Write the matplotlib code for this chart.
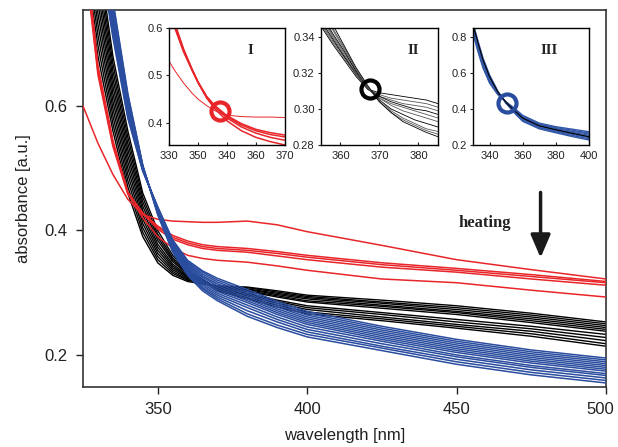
import matplotlib
matplotlib.use("Agg")
import matplotlib.pyplot as plt
from matplotlib.transforms import ScaledTranslation

plt.rcParams['font.family'] = ['Liberation Sans', 'DejaVu Sans']

# ---- main spectra (wavelength in nm, absorbance in a.u.) ----
wavelength = [325, 330, 335, 340, 345, 350, 355, 360, 365, 370, 380, 390, 400, 425, 450, 475, 500]

red_spectra = [
    [0.600, 0.540, 0.490, 0.450, 0.425, 0.418, 0.415, 0.414, 0.413, 0.413, 0.415, 0.409, 0.398, 0.376, 0.353, 0.337, 0.322],
    [0.860, 0.650, 0.535, 0.458, 0.428, 0.407, 0.392, 0.383, 0.377, 0.374, 0.371, 0.366, 0.360, 0.348, 0.339, 0.329, 0.318],
    [0.870, 0.655, 0.538, 0.460, 0.428, 0.405, 0.389, 0.380, 0.374, 0.371, 0.368, 0.363, 0.357, 0.345, 0.336, 0.326, 0.316],
    [0.880, 0.660, 0.542, 0.462, 0.427, 0.402, 0.386, 0.377, 0.371, 0.368, 0.365, 0.359, 0.353, 0.341, 0.333, 0.322, 0.312],
    [0.890, 0.665, 0.545, 0.460, 0.420, 0.390, 0.372, 0.360, 0.355, 0.352, 0.349, 0.343, 0.336, 0.322, 0.316, 0.304, 0.293],
]

black_spectra = [
    [0.840, 0.680, 0.560, 0.460, 0.390, 0.348, 0.328, 0.318, 0.314, 0.311, 0.309, 0.303, 0.296, 0.288, 0.279, 0.267, 0.253],
    [0.860, 0.697, 0.572, 0.470, 0.397, 0.353, 0.331, 0.320, 0.315, 0.310, 0.308, 0.301, 0.294, 0.285, 0.276, 0.264, 0.250],
    [0.880, 0.714, 0.584, 0.480, 0.404, 0.358, 0.334, 0.321, 0.316, 0.310, 0.306, 0.299, 0.292, 0.283, 0.273, 0.261, 0.247],
    [0.900, 0.731, 0.596, 0.490, 0.411, 0.363, 0.337, 0.323, 0.316, 0.309, 0.305, 0.297, 0.290, 0.280, 0.270, 0.258, 0.244],
    [0.920, 0.748, 0.608, 0.500, 0.418, 0.368, 0.340, 0.325, 0.317, 0.309, 0.303, 0.295, 0.287, 0.278, 0.268, 0.255, 0.241],
    [0.940, 0.765, 0.620, 0.510, 0.425, 0.373, 0.343, 0.326, 0.318, 0.308, 0.302, 0.293, 0.285, 0.275, 0.265, 0.252, 0.238],
    [0.960, 0.782, 0.632, 0.520, 0.432, 0.378, 0.346, 0.328, 0.319, 0.307, 0.299, 0.288, 0.279, 0.268, 0.257, 0.246, 0.233],
    [0.980, 0.799, 0.644, 0.530, 0.439, 0.384, 0.350, 0.330, 0.319, 0.306, 0.297, 0.286, 0.276, 0.265, 0.253, 0.242, 0.228],
    [1.000, 0.816, 0.656, 0.540, 0.446, 0.389, 0.353, 0.331, 0.320, 0.305, 0.295, 0.283, 0.273, 0.261, 0.249, 0.238, 0.223],
    [1.020, 0.833, 0.668, 0.550, 0.453, 0.394, 0.356, 0.333, 0.321, 0.304, 0.292, 0.280, 0.269, 0.258, 0.246, 0.234, 0.218],
    [1.050, 0.850, 0.680, 0.560, 0.460, 0.400, 0.360, 0.335, 0.322, 0.303, 0.290, 0.277, 0.266, 0.255, 0.243, 0.230, 0.214],
]

blue_spectra = [
    [1.02, 0.860, 0.710, 0.580, 0.495, 0.438, 0.385, 0.352, 0.335, 0.323, 0.305, 0.286, 0.270, 0.246, 0.225, 0.208, 0.195],
    [1.03, 0.867, 0.715, 0.583, 0.496, 0.437, 0.383, 0.350, 0.333, 0.320, 0.302, 0.283, 0.267, 0.243, 0.222, 0.205, 0.192],
    [1.04, 0.873, 0.720, 0.587, 0.497, 0.436, 0.382, 0.348, 0.330, 0.317, 0.299, 0.280, 0.264, 0.240, 0.219, 0.202, 0.189],
    [1.05, 0.880, 0.725, 0.590, 0.497, 0.435, 0.380, 0.346, 0.327, 0.314, 0.296, 0.277, 0.261, 0.237, 0.216, 0.199, 0.186],
    [1.06, 0.887, 0.730, 0.593, 0.498, 0.434, 0.378, 0.344, 0.325, 0.311, 0.293, 0.274, 0.258, 0.234, 0.213, 0.196, 0.183],
    [1.07, 0.893, 0.735, 0.597, 0.499, 0.433, 0.377, 0.342, 0.322, 0.308, 0.290, 0.271, 0.255, 0.231, 0.210, 0.193, 0.180],
    [1.08, 0.900, 0.740, 0.600, 0.500, 0.432, 0.375, 0.340, 0.319, 0.305, 0.287, 0.268, 0.252, 0.228, 0.207, 0.190, 0.177],
    [1.09, 0.907, 0.745, 0.603, 0.501, 0.431, 0.373, 0.338, 0.317, 0.302, 0.284, 0.265, 0.249, 0.225, 0.204, 0.187, 0.174],
    [1.10, 0.913, 0.750, 0.607, 0.502, 0.430, 0.372, 0.336, 0.314, 0.299, 0.280, 0.261, 0.245, 0.222, 0.200, 0.183, 0.170],
    [1.10, 0.920, 0.755, 0.610, 0.503, 0.429, 0.370, 0.334, 0.311, 0.296, 0.276, 0.257, 0.241, 0.218, 0.197, 0.180, 0.167],
    [1.11, 0.927, 0.760, 0.613, 0.503, 0.428, 0.368, 0.332, 0.308, 0.293, 0.271, 0.253, 0.237, 0.214, 0.193, 0.176, 0.163],
    [1.11, 0.933, 0.765, 0.617, 0.504, 0.427, 0.367, 0.330, 0.306, 0.290, 0.266, 0.248, 0.233, 0.211, 0.189, 0.172, 0.159],
    [1.12, 0.940, 0.770, 0.620, 0.505, 0.425, 0.365, 0.328, 0.303, 0.287, 0.262, 0.244, 0.229, 0.207, 0.185, 0.168, 0.155],
]

# ---- inset I (red) ----
inset1_wl = [330, 332, 335, 338, 340, 343, 346, 348, 350, 355, 360, 365, 370]
inset1_thin = [0.530, 0.510, 0.484, 0.462, 0.450, 0.436, 0.425, 0.419, 0.416, 0.413, 0.412, 0.412, 0.411]
inset1_red = [
    [0.640, 0.600, 0.550, 0.510, 0.485, 0.455, 0.435, 0.425, 0.415, 0.398, 0.386, 0.379, 0.374],
    [0.645, 0.603, 0.552, 0.511, 0.486, 0.455, 0.434, 0.423, 0.413, 0.395, 0.383, 0.375, 0.370],
    [0.650, 0.606, 0.554, 0.512, 0.486, 0.454, 0.432, 0.421, 0.410, 0.391, 0.378, 0.369, 0.363],
    [0.655, 0.610, 0.556, 0.512, 0.485, 0.452, 0.428, 0.416, 0.404, 0.383, 0.369, 0.360, 0.353],
]
inset1_xticks = [330, 340, 350, 360, 370]
inset1_xlabels = ['330', '350', '340', '360', '370']

# ---- inset II (black) ----
inset2_wl = [355, 358, 361, 364, 367, 370, 373, 376, 379, 382, 385]
inset2_black = [
    [0.346, 0.336, 0.327, 0.318, 0.311, 0.309, 0.308, 0.307, 0.306, 0.305, 0.303],
    [0.347, 0.337, 0.328, 0.319, 0.311, 0.308, 0.306, 0.305, 0.304, 0.303, 0.301],
    [0.348, 0.338, 0.329, 0.319, 0.311, 0.307, 0.305, 0.303, 0.302, 0.301, 0.299],
    [0.349, 0.339, 0.329, 0.320, 0.311, 0.307, 0.304, 0.302, 0.300, 0.299, 0.297],
    [0.351, 0.340, 0.330, 0.320, 0.311, 0.306, 0.303, 0.301, 0.299, 0.297, 0.295],
    [0.352, 0.341, 0.331, 0.321, 0.312, 0.306, 0.302, 0.299, 0.297, 0.295, 0.293],
    [0.353, 0.342, 0.332, 0.321, 0.312, 0.305, 0.300, 0.297, 0.294, 0.292, 0.290],
    [0.355, 0.344, 0.333, 0.322, 0.312, 0.305, 0.299, 0.295, 0.292, 0.289, 0.2875],
    [0.356, 0.345, 0.334, 0.322, 0.312, 0.304, 0.298, 0.294, 0.291, 0.288, 0.286],
    [0.358, 0.347, 0.335, 0.323, 0.313, 0.304, 0.298, 0.293, 0.290, 0.287, 0.2846],
]

# ---- inset III (blue) ----
inset3_wl = [330, 333, 336, 340, 345, 350, 355, 360, 370, 380, 390, 400]
inset3_blue = [
    [0.820, 0.720, 0.630, 0.545, 0.480, 0.440, 0.405, 0.365, 0.322, 0.302, 0.288, 0.274],
    [0.829, 0.729, 0.638, 0.551, 0.483, 0.439, 0.401, 0.360, 0.317, 0.297, 0.282, 0.267],
    [0.837, 0.737, 0.646, 0.558, 0.486, 0.438, 0.397, 0.356, 0.313, 0.292, 0.276, 0.261],
    [0.846, 0.746, 0.654, 0.564, 0.489, 0.437, 0.393, 0.351, 0.308, 0.287, 0.270, 0.254],
    [0.854, 0.754, 0.661, 0.571, 0.491, 0.436, 0.390, 0.346, 0.304, 0.283, 0.264, 0.247],
    [0.863, 0.763, 0.669, 0.577, 0.494, 0.435, 0.386, 0.341, 0.299, 0.278, 0.259, 0.241],
    [0.871, 0.771, 0.677, 0.584, 0.497, 0.434, 0.382, 0.337, 0.295, 0.273, 0.253, 0.234],
    [0.880, 0.780, 0.685, 0.590, 0.500, 0.432, 0.378, 0.332, 0.290, 0.268, 0.247, 0.228],
]
inset3_black = [0.870, 0.770, 0.675, 0.580, 0.495, 0.437, 0.392, 0.350, 0.307, 0.285, 0.265, 0.246]

# crossing points marked with circles (x, y)
circle1 = (347.6, 0.425)
circle2 = (367.6, 0.311)
circle3 = (350.8, 0.436)

RED = '#e8262a'
BLUE = '#2a4d9f'
TXT = '#222222'

fig = plt.figure(figsize=(6.18, 4.47), dpi=100)
ax = fig.add_axes([0.1343, 0.1349, 0.8463, 0.8427])

for s in black_spectra:
    ax.plot(wavelength, s, color='black', lw=1.0, zorder=2)
for s in red_spectra:
    ax.plot(wavelength, s, color=RED, lw=1.1, zorder=3)
for s in blue_spectra:
    ax.plot(wavelength, s, color=BLUE, lw=1.1, zorder=4)

ax.set_xlim(325, 500)
ax.set_ylim(0.149, 0.754)
ax.set_xticks([350, 400, 450, 500])
ax.set_yticks([0.2, 0.4, 0.6])
ax.tick_params(direction='out', length=5, width=1, labelsize=12, colors=TXT, pad=6)
ax.set_xlabel('wavelength [nm]', fontsize=12, color=TXT, labelpad=8)
ax.set_ylabel('absorbance [a.u.]', fontsize=12, color=TXT, labelpad=10)
for sp in ax.spines.values():
    sp.set_linewidth(1.2)
    sp.set_color('#333333')

# last x label sits slightly left so it stays inside the figure
last = ax.get_xticklabels()[-1]
last.set_transform(last.get_transform() + ScaledTranslation(-4 / 72, 0, fig.dpi_scale_trans))

# heating arrow
ax.annotate('', xy=(478.1, 0.356), xytext=(478.1, 0.461),
            arrowprops=dict(arrowstyle='-|>,head_width=0.3,head_length=0.7',
                            mutation_scale=20, lw=2.5, color='#1a1a1a',
                            shrinkA=0, shrinkB=0))
ax.text(459.6, 0.412, 'heating', fontsize=12, fontweight='bold',
        family='Liberation Serif', color=TXT, ha='center', va='center')


def style_inset(a):
    a.tick_params(labelsize=8, colors=TXT, length=2.5, width=0.8, pad=2)
    a.tick_params(axis='x', direction='in', pad=4)
    a.tick_params(axis='y', direction='out')
    for sp in a.spines.values():
        sp.set_linewidth(1.0)
        sp.set_color('black')


# inset I
ax1 = fig.add_axes([0.2735, 0.6756, 0.1877, 0.2617])
ax1.plot(inset1_wl, inset1_thin, color=RED, lw=0.7)
for s in inset1_red:
    ax1.plot(inset1_wl, s, color=RED, lw=1.1)
ax1.plot(*circle1, marker='o', ms=13, mfc='none', mec=RED, mew=3)
ax1.set_xlim(330, 370)
ax1.set_ylim(0.353, 0.6)
ax1.set_xticks(inset1_xticks)
ax1.set_xticklabels(inset1_xlabels)
ax1.set_yticks([0.4, 0.5, 0.6])
ax1.text(0.70, 0.81, 'I', transform=ax1.transAxes, fontsize=10.5, fontweight='bold',
         family='Liberation Serif', color=TXT, ha='center', va='center')
style_inset(ax1)

# inset II
ax2 = fig.add_axes([0.5194, 0.6756, 0.1893, 0.2617])
for i, s in enumerate(inset2_black):
    ax2.plot(inset2_wl, s, color='black' if i % 3 == 0 else '#555555', lw=0.6)
ax2.plot(*circle2, marker='o', ms=13, mfc='none', mec='black', mew=3)
ax2.set_xlim(355, 385)
ax2.set_ylim(0.28, 0.345)
ax2.set_xticks([360, 370, 380])
ax2.set_yticks([0.28, 0.30, 0.32, 0.34])
ax2.set_yticklabels(['0.28', '0.30', '0.32', '0.34'])
ax2.text(0.79, 0.81, 'II', transform=ax2.transAxes, fontsize=10.5, fontweight='bold',
         family='Liberation Serif', color=TXT, ha='center', va='center')
style_inset(ax2)

# inset III
ax3 = fig.add_axes([0.7654, 0.6756, 0.1877, 0.2617])
for s in inset3_blue:
    ax3.plot(inset3_wl, s, color='#3358a8', lw=1.0)
ax3.plot(inset3_wl, inset3_black, color='black', lw=0.8)
ax3.plot(*circle3, marker='o', ms=13, mfc='none', mec=BLUE, mew=3)
ax3.set_xlim(330, 400)
ax3.set_ylim(0.2, 0.852)
ax3.set_xticks([340, 360, 380, 400])
ax3.set_yticks([0.2, 0.4, 0.6, 0.8])
ax3.text(0.655, 0.806, 'III', transform=ax3.transAxes, fontsize=10.5, fontweight='bold',
         family='Liberation Serif', color=TXT, ha='center', va='center')
style_inset(ax3)

fig.savefig('out.png', dpi=100)
